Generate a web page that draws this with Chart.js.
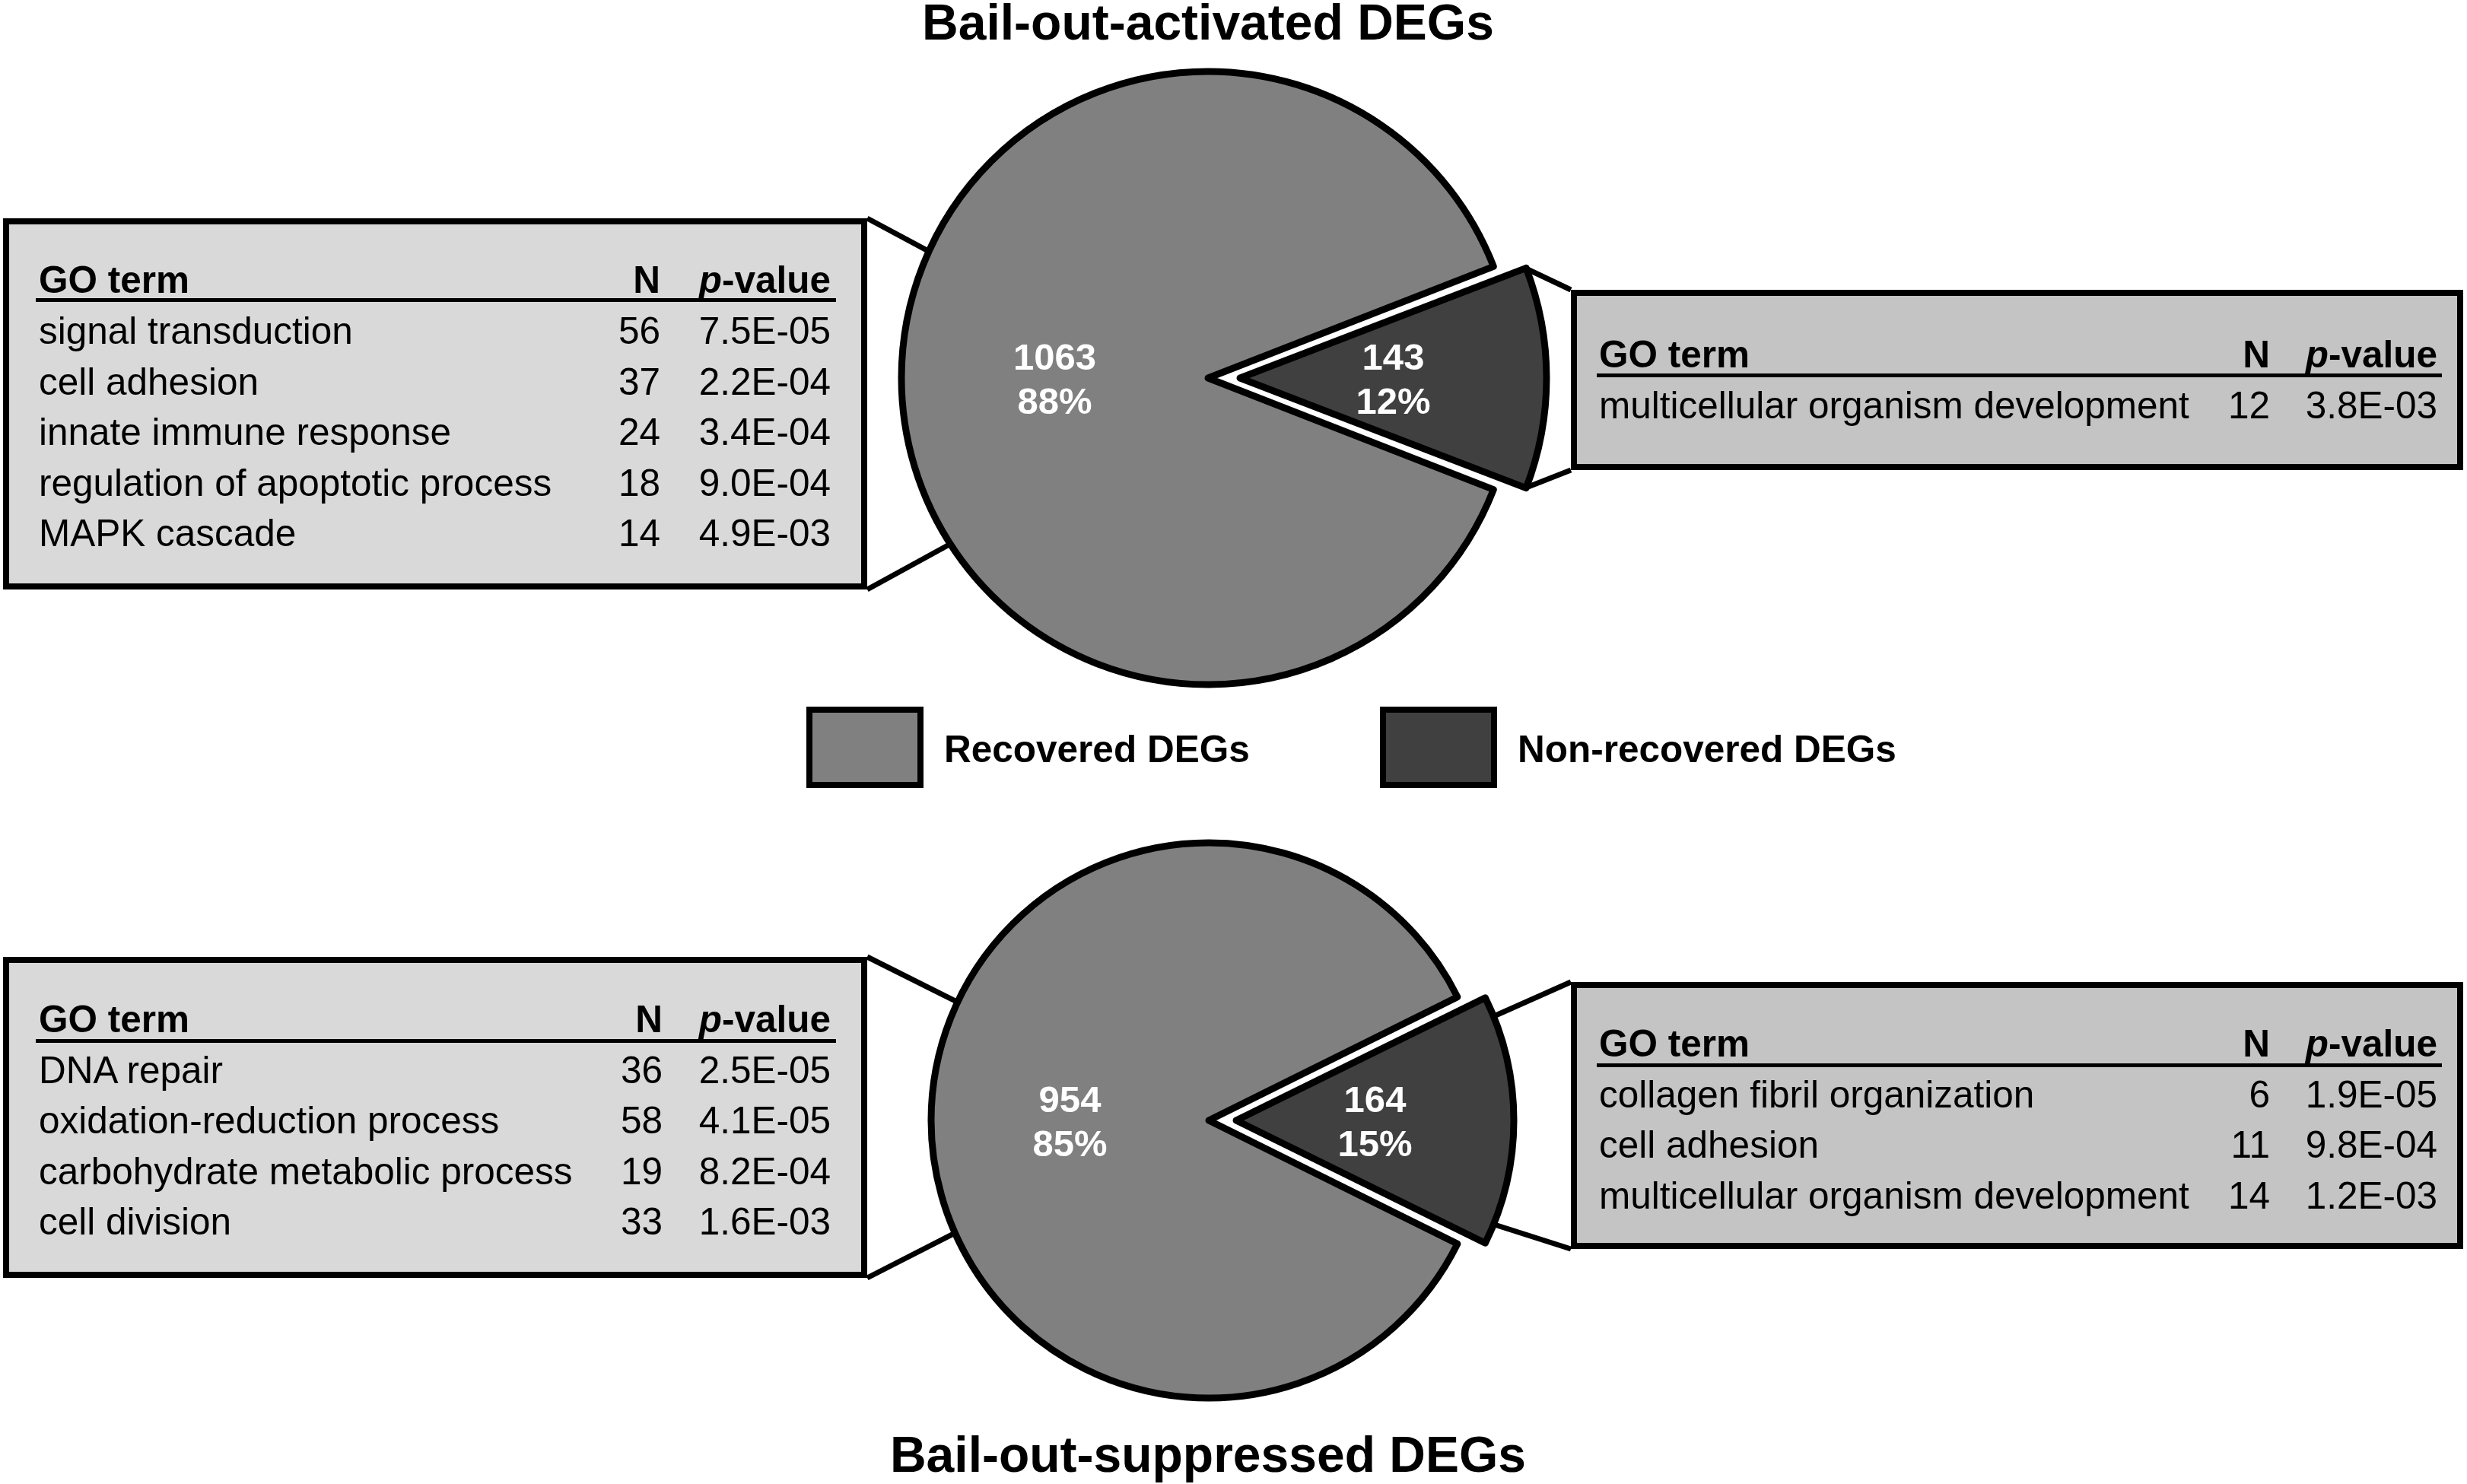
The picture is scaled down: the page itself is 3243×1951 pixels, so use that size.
<!DOCTYPE html>
<html>
<head>
<meta charset="utf-8">
<script src="https://cdn.jsdelivr.net/npm/chart.js@4.4.1/dist/chart.umd.min.js"></script>
<style>
html,body{margin:0;padding:0;background:#fff;}
#page{position:relative;width:3243px;height:1951px;overflow:hidden;background:#fff;
  font-family:"Liberation Sans",Arial,Helvetica,sans-serif;color:#000;}
#page canvas{position:absolute;left:0;}
.t{position:absolute;white-space:nowrap;line-height:1;}
.box{position:absolute;box-sizing:border-box;border:8px solid #000;}
.rule{position:absolute;background:#000;}
</style>
</head>
<body>
<div id="page">
  <canvas id="topPie" width="3243" height="975" style="top:0px"></canvas>
  <canvas id="botPie" width="3243" height="976" style="top:975px"></canvas>
</div>
<script>
// ---------------- data ----------------
const categories = ['Recovered DEGs', 'Non-recovered DEGs'];
const activatedCounts = [1063, 143];
const suppressedCounts = [954, 164];
const sliceColors = ['#808080', '#404040'];
const chartTitles = ['Bail-out-activated DEGs', 'Bail-out-suppressed DEGs'];
const tableHeader = ['GO term', 'N', 'p-value'];

const actRecTerms = ['signal transduction', 'cell adhesion', 'innate immune response', 'regulation of apoptotic process', 'MAPK cascade'];
const actRecN = [56, 37, 24, 18, 14];
const actRecP = ['7.5E-05', '2.2E-04', '3.4E-04', '9.0E-04', '4.9E-03'];

const actNonTerms = ['multicellular organism development'];
const actNonN = [12];
const actNonP = ['3.8E-03'];

const supRecTerms = ['DNA repair', 'oxidation-reduction process', 'carbohydrate metabolic process', 'cell division'];
const supRecN = [36, 58, 19, 33];
const supRecP = ['2.5E-05', '4.1E-05', '8.2E-04', '1.6E-03'];

const supNonTerms = ['collagen fibril organization', 'cell adhesion', 'multicellular organism development'];
const supNonN = [6, 11, 14];
const supNonP = ['1.9E-05', '9.8E-04', '1.2E-03'];

// ---------------- layout ----------------
const FONT = '"Liberation Sans", Arial, Helvetica, sans-serif';
const PAGE_W = 3243;
const TXT = 49.5;
const BASE_K = 0.8465; // baseline offset / font size for line-height:1

const topLayout = {cx: 1588, cy: 497, r: 403, explode: 168, canvasTop: 0, canvasH: 975,
  connectors: [
    {from: [1140, 287], arc: 0, rel: 24.4},
    {from: [1140, 775], arc: 0, rel: -32.8},
    {from: [2065, 381], arc: 1, rel: -21.2},
    {from: [2065, 618], arc: 1, rel: 21.2}
  ]};
const botLayout = {cx: 1589, cy: 1473, r: 365, explode: 144, canvasTop: 975, canvasH: 976,
  connectors: [
    {from: [1140, 1258], arc: 0, rel: 25.2},
    {from: [1140, 1680], arc: 0, rel: -23.9},
    {from: [2065, 1291], arc: 1, rel: -22},
    {from: [2065, 1642], arc: 1, rel: 22}
  ]};

const tblTL = {x: 4, y: 287, w: 1136, h: 488, fill: '#d9d9d9', textL: 51, nR: 868, pR: 1092,
  lineL: 47, lineR: 1099, lineY: 392, headBase: 385, rowBase0: 452, pitch: 66.5};
const tblTR = {x: 2065, y: 381, w: 1173, h: 237, fill: '#c4c4c4', textL: 2102, nR: 2984, pR: 3204,
  lineL: 2099, lineR: 3210, lineY: 491, headBase: 483, rowBase0: 550, pitch: 66.5};
const tblBL = {x: 4, y: 1258, w: 1136, h: 422, fill: '#d9d9d9', textL: 51, nR: 871, pR: 1092,
  lineL: 47, lineR: 1099, lineY: 1366, headBase: 1357, rowBase0: 1424, pitch: 66.4};
const tblBR = {x: 2065, y: 1291, w: 1173, h: 351, fill: '#c4c4c4', textL: 2102, nR: 2984, pR: 3204,
  lineL: 2099, lineR: 3210, lineY: 1398, headBase: 1389, rowBase0: 1456, pitch: 66.3};

const legendLayout = {boxX: [1060, 1814], boxY: 929, boxW: 154, boxH: 107, gap: 27, textBase: 1002};

// ---------------- chart plugins ----------------
const pieDecor = {
  id: 'pieDecor',
  afterDatasetsUpdate(chart, args, o) {
    // keep the exploded slice at the same radius as the rest of the pie
    chart.getDatasetMeta(0).data.forEach(arc => {
      const t = (arc.options.offset || 0) / 4;
      const circ = arc.endAngle - arc.startAngle;
      const fix = 1 - Math.sin(Math.min(Math.PI, circ));
      arc.outerRadius = o.radius - t * fix;
    });
  },
  beforeDatasetsDraw(chart, args, o) {
    const ctx = chart.ctx;
    const arcs = chart.getDatasetMeta(0).data;
    ctx.save();
    ctx.strokeStyle = '#000';
    ctx.lineWidth = o.lineWidth;
    ctx.lineCap = 'butt';
    o.connectors.forEach(c => {
      const arc = arcs[c.arc];
      const mid = (arc.startAngle + arc.endAngle) / 2;
      const t = (arc.options.offset || 0) / 4;
      const ax = arc.x + Math.cos(mid) * t, ay = arc.y + Math.sin(mid) * t;
      const a = mid + c.rel * Math.PI / 180;
      const rr = o.radius - 2;
      ctx.beginPath();
      ctx.moveTo(c.from[0], c.from[1] - o.canvasTop);
      ctx.lineTo(ax + Math.cos(a) * rr, ay + Math.sin(a) * rr);
      ctx.stroke();
    });
    ctx.restore();
  },
  afterDatasetsDraw(chart, args, o) {
    const ctx = chart.ctx;
    const meta = chart.getDatasetMeta(0);
    const vals = chart.data.datasets[0].data;
    const total = vals.reduce((s, v) => s + v, 0);
    ctx.save();
    ctx.fillStyle = '#fff';
    ctx.font = 'bold 49px ' + FONT;
    ctx.textAlign = 'center';
    ctx.textBaseline = 'alphabetic';
    meta.data.forEach((arc, i) => {
      const mid = (arc.startAngle + arc.endAngle) / 2;
      const t = (arc.options.offset || 0) / 4;
      const d = t + o.radius * 0.5;
      const x = arc.x + Math.cos(mid) * d;
      const y = arc.y + Math.sin(mid) * d;
      ctx.fillText(String(vals[i]), x, y - 11);
      ctx.fillText(Math.round(vals[i] / total * 100) + '%', x, y + 47);
    });
    ctx.restore();
  }
};

function makePie(id, counts, L) {
  const cyLocal = L.cy - L.canvasTop;
  const vpad = 2 * cyLocal - L.canvasH;
  const half = counts[1] / (counts[0] + counts[1]) * 180;
  return new Chart(document.getElementById(id), {
    type: 'pie',
    data: {
      labels: categories,
      datasets: [{
        data: counts,
        backgroundColor: sliceColors,
        borderColor: '#000',
        borderWidth: 9,
        borderJoinStyle: 'round',
        offset: [0, L.explode]
      }]
    },
    options: {
      responsive: false,
      devicePixelRatio: 1,
      animation: false,
      events: [],
      radius: L.r,
      rotation: 90 + half,
      layout: {padding: {left: 0, right: PAGE_W - 2 * L.cx,
        top: vpad > 0 ? vpad : 0, bottom: vpad < 0 ? -vpad : 0}},
      plugins: {
        legend: {display: false},
        tooltip: {enabled: false},
        title: {display: false},
        pieDecor: {radius: L.r, connectors: L.connectors, canvasTop: L.canvasTop, lineWidth: 7}
      }
    },
    plugins: [pieDecor]
  });
}

makePie('topPie', activatedCounts, topLayout);
makePie('botPie', suppressedCounts, botLayout);

// ---------------- html text: titles, tables, legend ----------------
const page = document.getElementById('page');

function addText(html, x, baseline, align, bold, size) {
  const d = document.createElement('div');
  d.className = 't';
  d.style.fontSize = size + 'px';
  d.style.fontWeight = bold ? 'bold' : 'normal';
  d.style.top = (baseline - size * BASE_K) + 'px';
  if (align === 'right') {
    d.style.left = (x - 1500) + 'px';
    d.style.width = '1500px';
    d.style.textAlign = 'right';
  } else if (align === 'center') {
    d.style.left = (x - 1500) + 'px';
    d.style.width = '3000px';
    d.style.textAlign = 'center';
  } else {
    d.style.left = x + 'px';
  }
  d.innerHTML = html;
  page.appendChild(d);
  return d;
}

function buildTable(s, terms, ns, ps) {
  const box = document.createElement('div');
  box.className = 'box';
  Object.assign(box.style, {left: s.x + 'px', top: s.y + 'px', width: s.w + 'px', height: s.h + 'px', background: s.fill});
  page.appendChild(box);
  addText(tableHeader[0], s.textL, s.headBase, 'left', true, TXT);
  addText(tableHeader[1], s.nR, s.headBase, 'right', true, TXT);
  const ph = tableHeader[2];
  addText('<i>' + ph.charAt(0) + '</i>' + ph.slice(1), s.pR, s.headBase, 'right', true, TXT);
  const rule = document.createElement('div');
  rule.className = 'rule';
  Object.assign(rule.style, {left: s.lineL + 'px', top: s.lineY + 'px', width: (s.lineR - s.lineL) + 'px', height: '5px'});
  page.appendChild(rule);
  terms.forEach((term, i) => {
    const b = s.rowBase0 + i * s.pitch;
    addText(term, s.textL, b, 'left', false, TXT);
    addText(String(ns[i]), s.nR, b, 'right', false, TXT);
    addText(ps[i], s.pR, b, 'right', false, TXT);
  });
}

buildTable(tblTL, actRecTerms, actRecN, actRecP);
buildTable(tblTR, actNonTerms, actNonN, actNonP);
buildTable(tblBL, supRecTerms, supRecN, supRecP);
buildTable(tblBR, supNonTerms, supNonN, supNonP);

addText(chartTitles[0], 1588, 52, 'center', true, 66);
addText(chartTitles[1], 1588, 1935, 'center', true, 66);

categories.forEach((lab, i) => {
  const L = legendLayout;
  const b = document.createElement('div');
  b.className = 'box';
  Object.assign(b.style, {left: L.boxX[i] + 'px', top: L.boxY + 'px', width: L.boxW + 'px', height: L.boxH + 'px', background: sliceColors[i]});
  page.appendChild(b);
  addText(lab, L.boxX[i] + L.boxW + L.gap, L.textBase, 'left', true, TXT);
});
</script>
</body>
</html>
